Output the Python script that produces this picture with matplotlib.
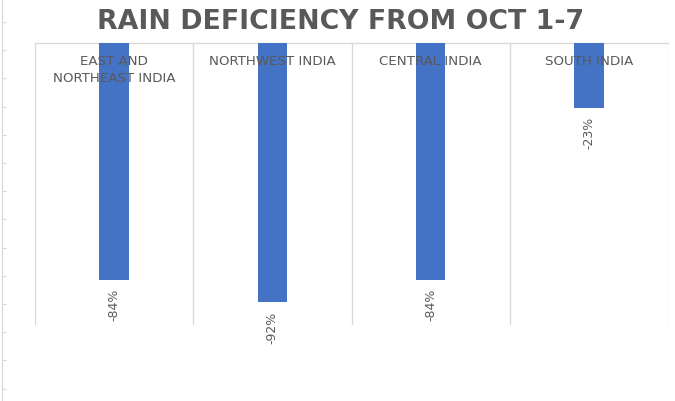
import matplotlib.pyplot as plt
import numpy as np

regions = ['EAST AND\nNORTHEAST INDIA', 'NORTHWEST INDIA', 'CENTRAL INDIA', 'SOUTH INDIA']
deficiency = [-84, -92, -84, -23]

grey = '#595959'
line_grey = '#D9D9D9'
bar_blue = '#4472C4'

fig = plt.figure(figsize=(6.75, 4.01), dpi=100)
ax = fig.add_axes([35/675, 1 - 325/401, (668 - 35)/675, (325 - 43)/401])

x = np.arange(len(regions))
ax.bar(x, deficiency, width=0.185, color=bar_blue, zorder=3)

ax.set_xlim(-0.5, len(regions) - 0.5)
ax.set_ylim(-100, 0)
for side in ['left', 'right', 'bottom']:
    ax.spines[side].set_visible(False)
ax.spines['top'].set_color(line_grey)
ax.spines['top'].set_linewidth(1)
ax.set_xticks([])
ax.set_yticks([])

# category separators
for sep in np.arange(-0.5, len(regions), 1):
    ax.axvline(sep, color=line_grey, lw=1, zorder=1)

for xi, name in zip(x, regions):
    ax.text(xi, -4.3, name, ha='center', va='top', fontsize=9.6, color=grey,
            linespacing=1.4, family='DejaVu Sans', zorder=4)

for xi, v in zip(x, deficiency):
    ax.text(xi, v - 3.2, f'{v}%', ha='center', va='top', rotation=90,
            fontsize=9, color=grey, family='DejaVu Sans')

fig.text(0.505, 1 - 22/401, 'RAIN DEFICIENCY FROM OCT 1-7', ha='center', va='center',
         fontsize=19.3, fontweight='bold', color=grey, family='DejaVu Sans')

# cropped axis line at the left edge
edge = fig.add_axes([2/675, 0, 0.02, 1])
edge.set_ylim(401, 0)
edge.set_xlim(0, 1)
for side in ['top', 'right', 'bottom']:
    edge.spines[side].set_visible(False)
edge.spines['left'].set_color(line_grey)
edge.set_xticks([])
edge.set_yticks(np.arange(22, 401, 28.2))
edge.tick_params(axis='y', direction='in', length=3, color=line_grey, labelleft=False)
edge.patch.set_alpha(0)

fig.savefig('out.png', dpi=100)
